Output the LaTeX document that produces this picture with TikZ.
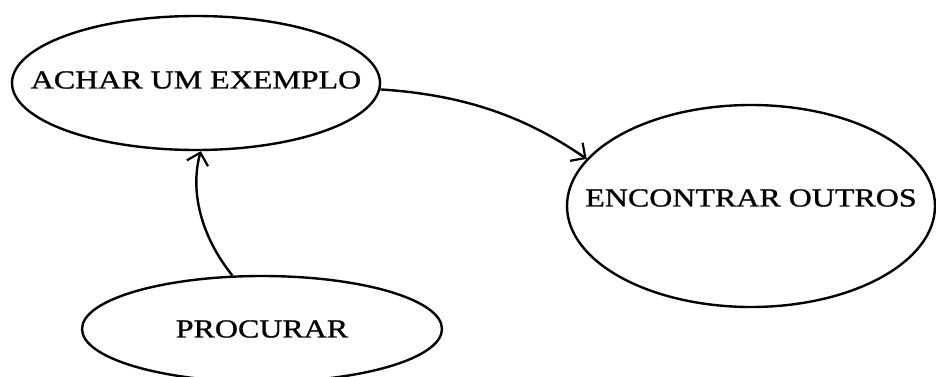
\documentclass[tikz,border=0pt]{standalone}
\usepackage{fontspec}
\setmainfont{Liberation Serif}[FakeStretch=1.23,FakeBold=1]
\usetikzlibrary{shapes.geometric,arrows.meta}
\begin{document}
\begin{tikzpicture}[x=1pt,y=-1pt,
  bubble/.style={draw,ellipse,line width=2.4pt,inner sep=0pt},
  caption/.style={font=\fontsize{26}{30}\selectfont,inner sep=0pt},
  link/.style={line width=2.4pt,-{Straight Barb[length=11pt,width=22pt,line width=2.2pt]}}]
  \useasboundingbox[fill=white] (0,0) rectangle (936,377);
  % the three activities
  \node[bubble,minimum width=368pt,minimum height=134pt,
        label={[caption,yshift=3pt]center:ACHAR UM EXEMPLO}] (achar) at (196,83) {};
  \node[bubble,minimum width=368pt,minimum height=202pt,
        label={[caption,yshift=8pt]center:ENCONTRAR OUTROS}] (encontrar) at (751,206) {};
  \node[bubble,minimum width=360pt,minimum height=106pt,
        label={[caption,yshift=0pt]center:PROCURAR}] (procurar) at (262,329) {};
  % connectors
  \draw[link] (achar.-2) .. controls (470,95) and (530,120) .. (encontrar.164);
  \draw[link] (procurar.119) .. controls (200,235) and (190,190) .. (achar.-86);
\end{tikzpicture}
\end{document}
